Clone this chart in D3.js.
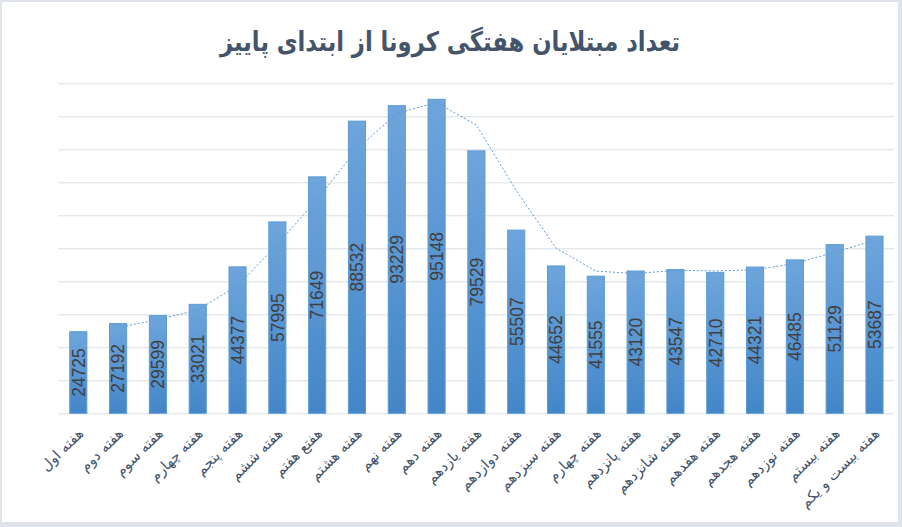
<!DOCTYPE html>
<html>
<head>
<meta charset="utf-8">
<script src="https://cdn.jsdelivr.net/npm/d3@7"></script>
<style>
	html, body { margin: 0; padding: 0; background: #dfe4ea; }
	svg { display: block; }
</style>
</head>
<body>
<svg id="chart" width="902" height="527"></svg>
<script>
const title = "تعداد مبتلایان هفتگی کرونا از ابتدای پاییز";

const weeks = [
	"هفته اول", "هفته دوم", "هفته سوم", "هفته چهارم", "هفته پنجم",
	"هفته ششم", "هفتع هفتم", "هفته هشتم", "هفته نهم", "هفته دهم",
	"هفته یازدهم", "هفته دوازدهم", "هفته سیزدهم", "هفته چهارم", "هفته پانزدهم",
	"هفته شانزدهم", "هفته هفدهم", "هفته هجدهم", "هفته نوزدهم", "هفته بیستم",
	"هفته بیست و یکم"
];
const cases = [
	24725, 27192, 29599, 33021, 44377, 57995, 71649, 88532, 93229, 95148,
	79529, 55507, 44652, 41555, 43120, 43547, 42710, 44321, 46485, 51129,
	53687
];
const yTicks = [0, 10000, 20000, 30000, 40000, 50000, 60000, 70000, 80000, 90000, 100000];

const margin = {top: 83.3, left: 58.4, right: 7.6, bottom: 113.7};
const W = 902, H = 527;

const svg = d3.select('#chart');

// chart frame
svg.append('rect')
	.attr('x', 2).attr('y', 2)
	.attr('width', 896).attr('height', 520)
	.attr('fill', '#ffffff');

const x = d3.scaleBand()
	.domain(d3.range(weeks.length))
	.range([margin.left, W - margin.right])
	.paddingInner(0.57)
	.paddingOuter(0.285);

const y = d3.scaleLinear()
	.domain([0, 100000])
	.range([H - margin.bottom, margin.top]);

// gradient for bars
const grad = svg.append('defs').append('linearGradient')
	.attr('id', 'barGrad')
	.attr('x1', 0).attr('y1', 0).attr('x2', 0).attr('y2', 1);
grad.append('stop').attr('offset', '0%').attr('stop-color', '#6ea5dc');
grad.append('stop').attr('offset', '100%').attr('stop-color', '#4386c8');

// gridlines
const yAxis = d3.axisLeft(y).tickValues(yTicks).tickSize(-(W - margin.right - margin.left)).tickFormat('');
const gy = svg.append('g')
	.attr('transform', 'translate(' + margin.left + ',0)')
	.call(yAxis);
gy.select('.domain').remove();
gy.selectAll('.tick line').attr('stroke', '#d9dde3').attr('stroke-width', 1);

// bars
const bar = svg.selectAll('g.bar').data(cases).enter().append('g').attr('class', 'bar');
bar.append('rect')
	.attr('x', function(d, i){ return x(i); })
	.attr('y', function(d){ return y(d); })
	.attr('width', x.bandwidth())
	.attr('height', function(d){ return y(0) - y(d); })
	.attr('fill', 'url(#barGrad)')
	.attr('stroke', '#5b9bd5')
	.attr('stroke-width', 1);

bar.append('text')
	.attr('transform', function(d, i){
		return 'translate(' + (x(i) + x.bandwidth() / 2) + ',' + ((y(d) + y(0)) / 2) + ') rotate(-90)';
	})
	.attr('text-anchor', 'middle')
	.attr('dy', '0.36em')
	.attr('font-family', 'Liberation Sans, Arial, sans-serif')
	.attr('font-size', 17.5)
	.attr('fill', '#404040')
	.text(function(d){ return d; });

// moving average trendline (period 2)
const trend = cases.map(function(d, i){
	return i == 0 ? null : (d + cases[i - 1]) / 2;
});
const line = d3.line()
	.defined(function(d){ return d != null; })
	.x(function(d, i){ return x(i) + x.bandwidth() / 2; })
	.y(function(d){ return y(d); });
svg.append('path')
	.datum(trend)
	.attr('d', line)
	.attr('fill', 'none')
	.attr('stroke', '#5b9bd5')
	.attr('stroke-width', 1)
	.attr('stroke-dasharray', '2,2');

// x labels
const xAxis = d3.axisBottom(x).tickSize(0).tickFormat(function(i){ return weeks[i]; });
const gx = svg.append('g')
	.attr('transform', 'translate(0,' + y(0) + ')')
	.call(xAxis);
gx.select('.domain').remove();
gx.selectAll('.tick text')
	.attr('transform', 'translate(6,21) rotate(-45)')
	.attr('y', 0).attr('dy', 0)
	.attr('text-anchor', 'end')
	.attr('font-family', 'DejaVu Sans, sans-serif')
	.attr('font-size', 14.5)
	.attr('fill', '#44546a');

// title
svg.append('text')
	.attr('x', 450)
	.attr('y', 51)
	.attr('text-anchor', 'middle')
	.attr('font-family', 'DejaVu Sans, sans-serif')
	.attr('font-weight', 'bold')
	.attr('font-size', 27)
	.attr('textLength', 460)
	.attr('lengthAdjust', 'spacingAndGlyphs')
	.attr('fill', '#44546a')
	.text(title);
</script>
</body>
</html>
